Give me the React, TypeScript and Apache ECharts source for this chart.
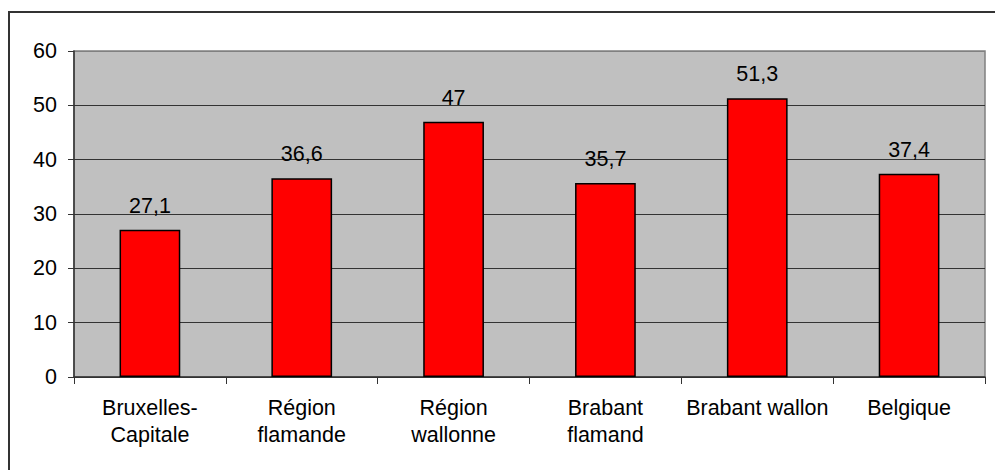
import React, { useEffect, useRef } from "react";
import * as echarts from "echarts";

const categories = [
  "Bruxelles-\nCapitale",
  "Région\nflamande",
  "Région\nwallonne",
  "Brabant\nflamand",
  "Brabant wallon",
  "Belgique",
];
const values = [27.1, 36.6, 47, 35.7, 51.3, 37.4];
const yMin = 0;
const yMax = 60;
const yInterval = 10;

const FONT = "Arial, 'Liberation Sans', sans-serif";

export default function App() {
  const ref = useRef<HTMLDivElement>(null);
  useEffect(() => {
    if (!ref.current) return;
    const chart = echarts.init(ref.current, undefined, { renderer: "svg" });
    chart.setOption({
      animation: false,
      graphic: [
        {
          type: "rect",
          shape: { x: 9, y: 12, width: 1000, height: 500 },
          style: { fill: "none", stroke: "#333", lineWidth: 2 },
          z: -1,
        },
      ],
      grid: {
        left: 74,
        right: 10,
        top: 51,
        bottom: 93,
        show: true,
        backgroundColor: "#C0C0C0",
        borderColor: "#808080",
        borderWidth: 1.5,
      },
      xAxis: {
        type: "category",
        data: categories,
        boundaryGap: true,
        axisLine: { show: true, lineStyle: { color: "#333", width: 1.5 } },
        axisTick: { show: true, length: 7, lineStyle: { color: "#333", width: 1 } },
        axisLabel: {
          interval: 0,
          margin: 17,
          color: "#000",
          fontFamily: FONT,
          fontSize: 21.5,
          lineHeight: 27,
        },
      },
      yAxis: {
        type: "value",
        min: yMin,
        max: yMax,
        interval: yInterval,
        axisLine: { show: true, lineStyle: { color: "#333", width: 1.5 } },
        axisTick: { show: true, length: 6, lineStyle: { color: "#333", width: 1 } },
        axisLabel: {
          margin: 17,
          color: "#000",
          fontFamily: FONT,
          fontSize: 21.5,
        },
        splitLine: {
          show: true,
          lineStyle: {
            color: ["#333", "#333", "#333", "#333", "#333", "#333", "#808080"],
            width: 1,
          },
        },
      },
      series: [
        {
          type: "bar",
          data: values,
          barCategoryGap: "60%",
          itemStyle: { color: "#FF0000", borderColor: "#000", borderWidth: 1.5 },
          label: {
            show: true,
            position: "top",
            distance: 13,
            color: "#000",
            fontFamily: FONT,
            fontSize: 21.5,
            formatter: (p: any) => String(p.value).replace(".", ","),
          },
        },
      ],
    });
    return () => chart.dispose();
  }, []);
  return (
    <div
      ref={ref}
      style={{ position: "absolute", left: 0, top: 0, width: 995, height: 470, background: "#fff" }}
    />
  );
}
